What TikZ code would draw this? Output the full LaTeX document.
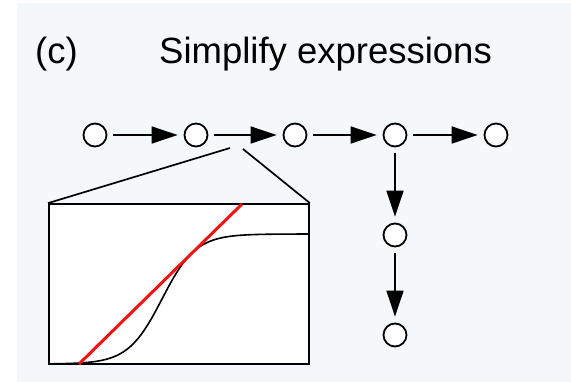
\documentclass[tikz,border=0pt]{standalone}
\usepackage{fontspec}
\setmainfont{Liberation Sans}
\usetikzlibrary{arrows.meta}

\definecolor{panelbg}{RGB}{244,248,250}
\definecolor{fitred}{RGB}{240,20,20}

\tikzset{
  expr/.style={circle,draw,fill=white,line width=1.8pt,minimum size=23pt,inner sep=0pt},
  flow/.style={line width=1.7pt,-{Triangle[length=26pt,width=17pt]},shorten <=6pt,shorten >=6pt}
}

\begin{document}
\begin{tikzpicture}[x=1pt,y=-1pt]

% Background and panel
\useasboundingbox (0,0) rectangle (571,381);
\fill[white] (-5,-5) rectangle (576,386);
\fill[panelbg] (17,3) rectangle (576,386);

% Title
\node[anchor=base west,font=\fontsize{36.5}{40}\selectfont,inner sep=0pt] (panel) at (35,63) {(c)};
\node[anchor=base west,font=\fontsize{36.5}{40}\selectfont,inner sep=0pt] (title) at (159,63) {Simplify expressions};

% Expression nodes
\node[expr] (e1) at (95,135) {};
\node[expr] (e2) at (196,135) {};
\node[expr] (e3) at (295,135) {};
\node[expr] (e4) at (395,135) {};
\node[expr] (e5) at (496,135) {};
\node[expr] (e6) at (395,235) {};
\node[expr] (e7) at (395,335) {};

% Steps
\draw[flow] (e1) -- (e2);
\draw[flow] (e2) -- (e3);
\draw[flow] (e3) -- (e4);
\draw[flow] (e4) -- (e5);
\draw[flow] (e4) -- (e6);
\draw[flow] (e6) -- (e7);

% Zoom inset
\coordinate (zl) at (230,148);
\coordinate (zr) at (243,149);
\node[draw,fill=white,line width=1.8pt,minimum width=260pt,minimum height=160pt,inner sep=0pt] (inset) at (179,284) {};
\draw[line width=1.7pt] (zl) -- (inset.north west);
\draw[line width=1.7pt] (zr) -- (inset.north east);

% Sigmoid and linear fit
\draw[line width=1.6pt] plot[domain=49:309,samples=120,smooth] (\x,{364-130/(1+exp(-(\x-162)/17))});
\draw[fitred,line width=3pt] (79,364) -- (242,204);

\end{tikzpicture}
\end{document}
